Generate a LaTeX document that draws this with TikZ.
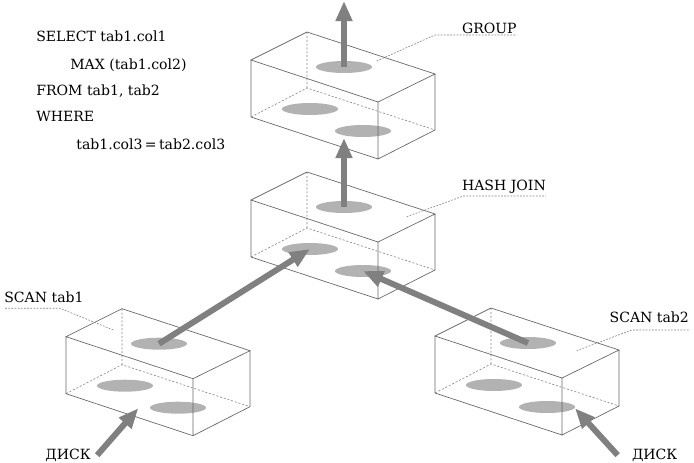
\documentclass[tikz,border=0pt]{standalone}
\usepackage{fontspec}
\setmainfont{DejaVu Serif}
\usepackage{tikz}
\usetikzlibrary{arrows.meta,shapes.geometric}
\definecolor{flowgray}{RGB}{128,128,128}
\definecolor{diskgray}{RGB}{178,178,178}
\definecolor{edgegray}{RGB}{105,105,105}

% one operator box with its three data disks
\newcommand{\opbox}[3]{%
  \begin{scope}[shift={(#1,#2)}]
    \node[disk] (#3-top) at (344,67) {};
    \node[disk] (#3-inl) at (310,109) {};
    \node[disk] (#3-inr) at (363,131) {};
    \draw[hidden] (307,32) -- (307,88) (251,117) -- (307,88) -- (435,130);
    \draw[edge] (251,60) -- (307,32) -- (435,74) -- (378,102) -- cycle
      (251,60) -- (251,117) -- (378,159) -- (435,130) -- (435,74)
      (378,102) -- (378,159);
  \end{scope}}

\begin{document}
\begin{tikzpicture}[x=0.02cm,y=-0.02cm,
    txt/.style={font=\fontsize{8}{10}\selectfont, inner sep=0pt, anchor=base west},
    disk/.style={ellipse, fill=diskgray, minimum width=1.12cm, minimum height=0.24cm, inner sep=0pt},
    edge/.style={draw=edgegray, line width=0.4pt},
    hidden/.style={draw=edgegray!80, line width=0.35pt, dash pattern=on 1.2pt off 1pt},
    leader/.style={draw=gray, line width=0.35pt, dash pattern=on 1pt off 0.8pt},
    flow/.style={draw=flowgray, line width=3.4pt, -{Triangle[length=11.4pt,width=9pt]}}]
    \useasboundingbox (0,0) rectangle (694,463);

    % query text
    \node[txt] (sqlA) at (36,41.7) {SELECT tab1.col1};
    \node[txt] (sqlB) at (70,69.5) {MAX (tab1.col2)};
    \node[txt] (sqlC) at (36,95.7) {FROM tab1, tab2};
    \node[txt] (sqlD) at (36,121.7) {WHERE};
    \node[txt] (sqlE) at (76,149) {tab1.col3\,=\,tab2.col3};

    % the four operators
    \opbox{0}{0}{grpbox}
    \opbox{0}{140}{hjbox}
    \opbox{-185}{276.7}{scanA}
    \opbox{184}{276}{scanB}

    % labels and their leaders
    \node[txt] (grp) at (461.7,33.3) {GROUP};
    \node[txt] (hj) at (461.7,190.7) {HASH JOIN};
    \node[txt] (scA) at (4,302.7) {SCAN tab1};
    \node[txt] (scB) at (609.3,322.7) {SCAN tab2};
    \node[txt] (diskA) at (45,459.3) {ДИСК};
    \node[txt] (diskB) at (631.7,459.3) {ДИСК};

    \coordinate (grpPt) at (376.7,61);
    \coordinate (grpBend) at (435,35);
    \coordinate (hjPt) at (406.7,216.7);
    \coordinate (hjBend) at (463.3,196);
    \coordinate (scAPt) at (113.3,330);
    \coordinate (scABend) at (60,308.3);
    \coordinate (scBPt) at (576.7,350.7);
    \coordinate (scBBend) at (631.7,330);
    \draw[leader] (grpPt) -- (grpBend) -- (grpBend -| grp.east);
    \draw[leader] (hjPt) -- (hjBend) -- (hjBend -| hj.east);
    \draw[leader] (scAPt) -- (scABend) -- (scABend -| scA.west);
    \draw[leader] (scBPt) -- (scBBend) -- (scBBend -| scB.east);

    % data flow
    \coordinate (grpOut) at (344,1);
    \coordinate (grpIn) at (344,138);
    \coordinate (scAIn) at (138.3,408.3);
    \coordinate (scBIn) at (575,408.3);
    \draw[flow] (grpbox-top.center) -- (grpOut);
    \draw[flow] (hjbox-top.center) -- (grpIn);
    \draw[flow] (scanA-top.center) -- (hjbox-inl.center);
    \draw[flow] (scanB-top.center) -- (hjbox-inr.center);
    \draw[flow] ([xshift=3.5pt]diskA.east) -- (scAIn);
    \draw[flow] ([xshift=-8pt]diskB.west) -- (scBIn);
\end{tikzpicture}
\end{document}
